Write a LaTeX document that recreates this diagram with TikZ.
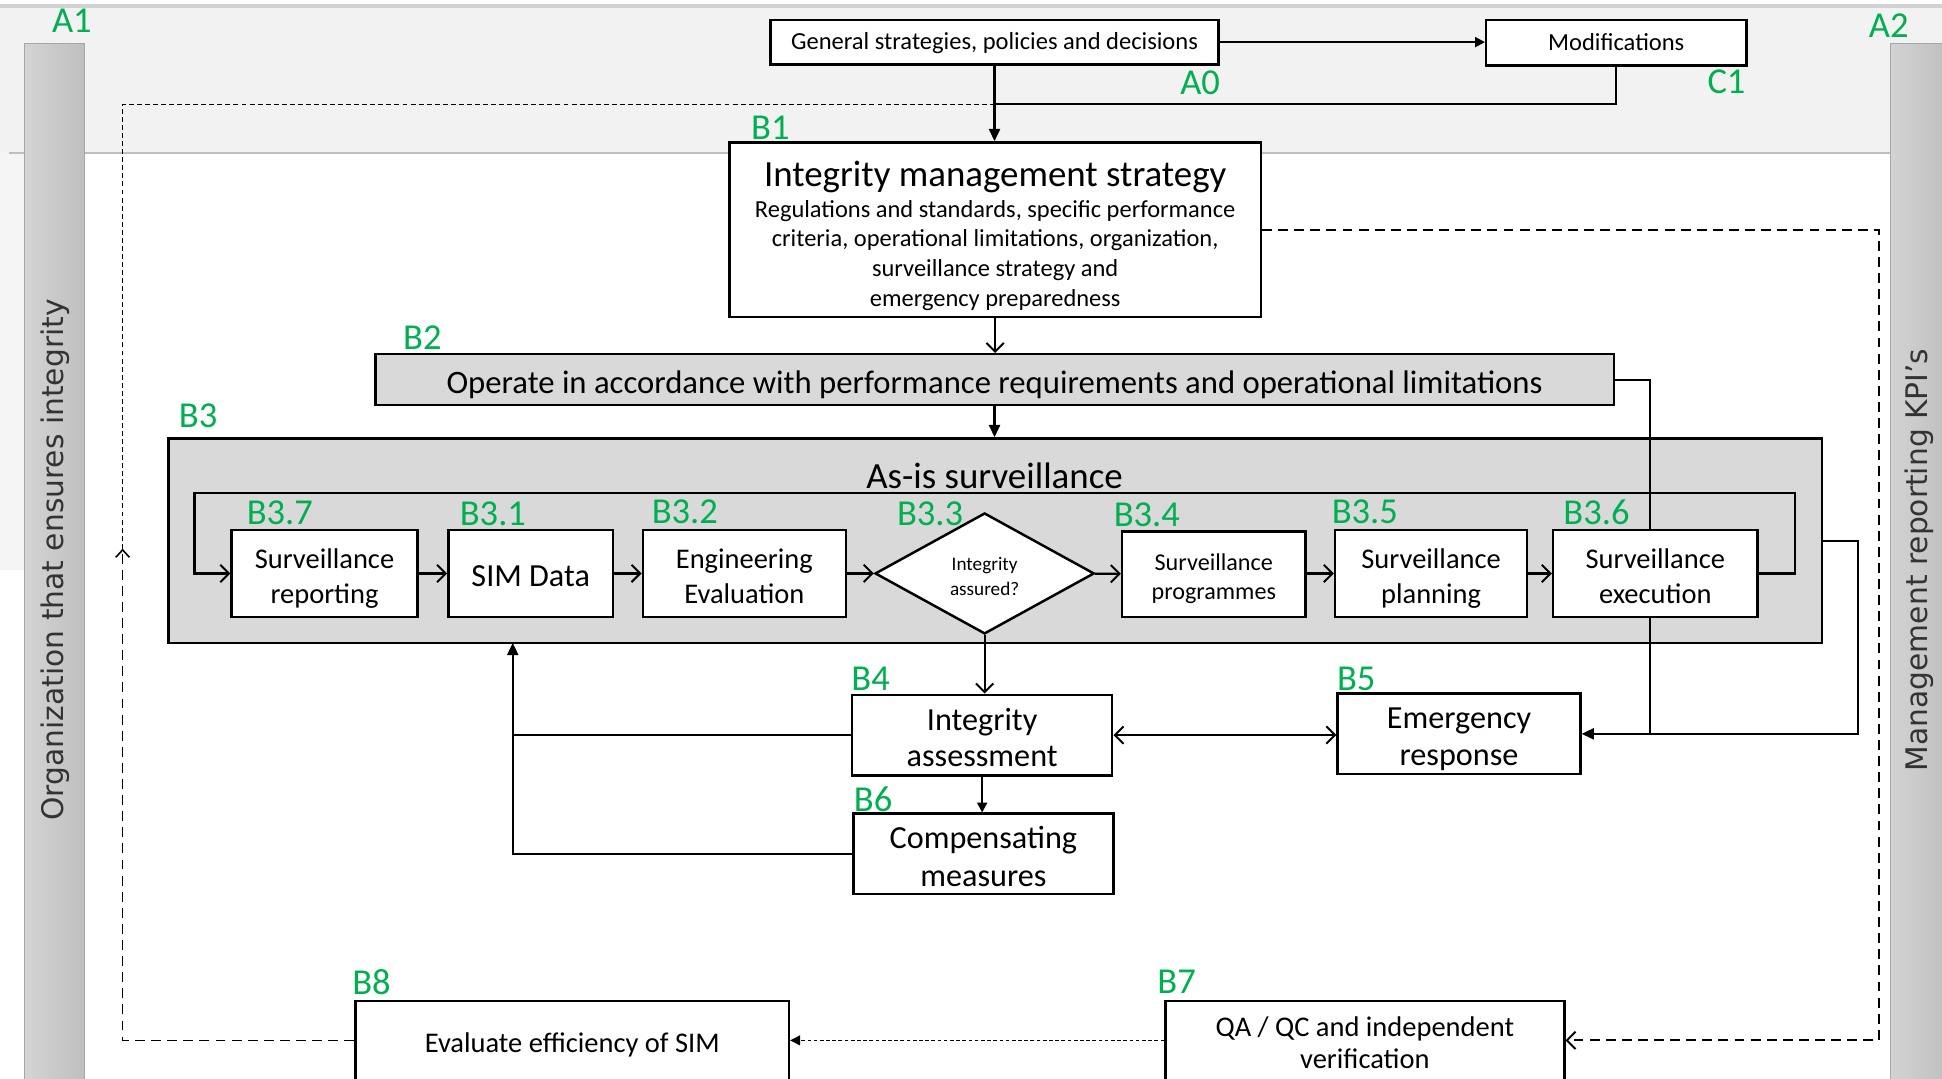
\documentclass[tikz,border=0pt]{standalone}
\usepackage{fontspec}
\setmainfont{Carlito}
\newfontfamily\sidefont{DejaVu Sans}
\usetikzlibrary{arrows.meta,shapes.geometric}
\definecolor{lblgreen}{HTML}{00B050}
\definecolor{bandgray}{HTML}{F2F2F2}
\definecolor{boxgray}{HTML}{D9D9D9}
\newcommand{\myfs}[2]{\fontsize{#1}{#2}\selectfont}
\newcommand{\sx}{\rule[-0.22em]{0pt}{1.08em}}
\newcommand{\sxf}{\rule[-0.22em]{0pt}{\dimexpr 1.08em+5pt\relax}}
\tikzset{
  box/.style={draw=black, line width=2pt, fill=white, align=center, inner sep=0pt},
  graybox/.style={box, fill=boxgray},
  lab/.style={text=lblgreen, font=\myfs{29.5}{30}, inner sep=0pt},
  con/.style={line width=1.7pt, draw=black},
  oarr/.style={-{Straight Barb[length=7pt,width=14pt,line width=1.6pt]}},
  oboth/.style={{Straight Barb[length=7pt,width=14pt,line width=1.6pt]}-{Straight Barb[length=7pt,width=14pt,line width=1.6pt]}},
  farr/.style={-{Triangle[length=10pt,width=9pt]}},
  sarr/.style={-{Triangle[length=8pt,width=8pt]}},
  sidelbl/.style={rotate=90, font=\sidefont\myfs{24}{24}, text=black!80, inner sep=0pt},
  boxtxt/.style={font=\myfs{23}{28.5}},
  bigtxt/.style={font=\myfs{26}{29.5}},
}
\begin{document}
\begin{tikzpicture}[x=1pt,y=-1pt]
\useasboundingbox (0,0) rectangle (1568,871);
% background
\fill[white] (0,0) rectangle (1568,871);
\fill[bandgray] (0,6) rectangle (1568,123);
\fill[bandgray!80] (0,123) rectangle (20,460);
\draw[black!18, line width=3pt] (0,5) -- (1568,5);
\draw[black!25, line width=1pt] (7,123.5) -- (1568,123.5);
\shade[left color=black!17, right color=black!25] (20,35) rectangle (68,875);
\draw[black!35, line width=0.8pt] (20,875) -- (20,35) -- (68,35) -- (68,875);
\shade[left color=black!17, right color=black!25] (1526,35) rectangle (1572,875);
\draw[black!35, line width=0.8pt] (1526,875) -- (1526,35) -- (1572,35);
\node[sidelbl] (orgl) at (45,452) {Organization that ensures integrity};
\node[sidelbl] (mgml) at (1550,452) {Management reporting KPI’s};

% top boxes
\node[box, minimum width=362pt, minimum height=36pt, font=\myfs{19.8}{20}] (gs) at (803,34) {\sx General strategies, policies and decisions};
\node[box, minimum width=210pt, minimum height=37pt, font=\myfs{19.8}{20}] (mod) at (1305,34.5) {\sx Modifications};

% B1
\node[box, minimum width=429pt, minimum height=141pt] (b1) at (803.5,185.5) {};
\node[font=\myfs{29.8}{30}, inner sep=0pt] (b1t) at (803.5,141) {\sx Integrity management strategy};
\node[font=\myfs{19.75}{24}, align=center, inner sep=0pt] (b1b) at (803.5,205) {\sx Regulations and standards, specific performance\\\sx criteria, operational limitations, organization,\\\sx surveillance strategy and\\\sx emergency preparedness};

% B2
\node[graybox, minimum width=1000pt, minimum height=41pt, font=\myfs{26.4}{27}] (b2) at (803,306.5) {\sxf Operate in accordance with performance requirements and operational limitations};

% B3 container
\node[graybox, minimum width=1335pt, minimum height=165pt] (b3) at (803.5,436.5) {};
\node[font=\myfs{29.8}{30}, inner sep=0pt] (b3t) at (803,385) {\sx As-is surveillance};

% lower boxes
\node[box, bigtxt, minimum width=210pt, minimum height=65pt] (b4) at (793,593.5) {\sxf Integrity\\\sx assessment};
\node[box, bigtxt, minimum width=196pt, minimum height=65pt] (b5) at (1178,592.5) {\sxf Emergency\\\sx response};
\node[box, font=\myfs{26}{31}, minimum width=210pt, minimum height=65pt] (b6) at (794,689.5) {\sxf Compensating\\\sx measures};
\node[box, boxtxt, minimum width=350pt, minimum height=64pt] (b8) at (462,840) {\sxf Evaluate efficiency of SIM};
\node[box, font=\myfs{23}{26.5}, minimum width=322pt, minimum height=64pt] (b7) at (1102,840) {\sxf QA / QC and independent\\\sx verification};

% lines crossing B3 (under inner boxes)
\draw[con] (b2.east) -- (1332,306.5) -- (1332,592.5);
\draw[con, farr] (b3.east) -- (1500,436.5) -- (1500,592.5) -- (b5.east);
\draw[con] (1332,592.5) -- (1400,592.5);

% inner boxes
\node[box, boxtxt, minimum width=150pt, minimum height=70pt] (b37) at (262,463) {\sxf Surveillance\\\sx reporting};
\node[box, font=\myfs{26}{28}, minimum width=133pt, minimum height=70pt] (b31) at (428.5,463) {\sxf SIM Data};
\node[box, boxtxt, minimum width=164pt, minimum height=70pt] (b32) at (601,463) {\sxf Engineering\\\sx Evaluation};
\node[box, diamond, minimum width=177pt, minimum height=93pt, font=\myfs{15.5}{20}] (b33) at (795,463) {\sxf Integrity\\\sx assured?};
\node[box, font=\myfs{19.5}{24}, minimum width=148pt, minimum height=69pt] (b34) at (980,463.5) {\sxf Surveillance\\\sx programmes};
\node[box, boxtxt, minimum width=155pt, minimum height=70pt] (b35) at (1155.5,463) {\sxf Surveillance\\\sx planning};
\node[box, boxtxt, minimum width=165pt, minimum height=70pt] (b36) at (1336.5,463) {\sxf Surveillance\\\sx execution};

% labels
\node[lab] (lA1) at (58,17) {A1};
\node[lab] (lA2) at (1525,21) {A2};
\node[lab] (lA0) at (969,67) {A0};
\node[lab] (lC1) at (1394,66) {C1};
\node[lab] (lB1) at (622,103) {B1};
\node[lab] (lB2) at (341,273) {B2};
\node[lab] (lB3) at (160,336) {B3};
\node[lab] (lB37) at (226,414) {B3.7};
\node[lab] (lB31) at (398,415) {B3.1};
\node[lab] (lB32) at (553,413) {B3.2};
\node[lab] (lB33) at (751,415) {B3.3};
\node[lab] (lB34) at (926,416) {B3.4};
\node[lab] (lB35) at (1102,413) {B3.5};
\node[lab] (lB36) at (1289,414) {B3.6};
\node[lab] (lB4) at (703,548) {B4};
\node[lab] (lB5) at (1095,548) {B5};
\node[lab] (lB6) at (705,645) {B6};
\node[lab] (lB7) at (950,793) {B7};
\node[lab] (lB8) at (300,793) {B8};

% coordinates
\coordinate (j0) at (803,84);
\coordinate (fbb) at (99,840);
\coordinate (fbm) at (99,443);
\coordinate (fbt) at (99,84);
\coordinate (r1) at (1517,185.5);
\coordinate (r2) at (1517,840);
\coordinate (up) at (414,519);

% top connectors
\draw[con, sarr] (gs.east) -- (gs.east -| mod.west);
\draw[con, farr] (gs.south) -- (gs.south |- b1.north);
\draw[con] (mod.south) |- (j0);

% feedback dashed
\draw[line width=1.4pt, dash pattern=on 8pt off 5pt, -{Straight Barb[length=6pt,width=11pt,line width=1.3pt]}] (b8.west) -- (fbb) -- (fbm);
\draw[line width=0.8pt, dash pattern=on 4pt off 2.5pt] (fbm) -- (fbt) -- (j0);
\draw[line width=1.5pt, dash pattern=on 8pt off 5pt, oarr] (b1.east) -- (r1) -- (r2) -- (b7.east);
\draw[line width=0.9pt, dash pattern=on 3pt off 2pt, sarr] (b7.west) -- (b8.east);

% main flow
\draw[con, oarr] (b1.south) -- (b1.south |- b2.north);
\draw[con, farr] (b2.south) -- (b2.south |- b3.north);
\draw[con, oarr] (b37) -- (b31);
\draw[con, oarr] (b31) -- (b32);
\draw[con, oarr] (b32) -- (b33);
\draw[con, oarr] (b33) -- (b34);
\draw[con, oarr] (b34.east |- b35.west) -- (b35.west);
\draw[con, oarr] (b35) -- (b36);
\draw[con, oarr] (b36.east) -- (1449,463) -- (1449,398) -- (157,398) -- (157,463) -- (b37.west);
\draw[con, oarr] (b33.south) -- (b33.south |- b4.north);
\draw[con, oboth] (b4.east) -- (b4.east -| b5.west);
\draw[con, sarr] (b4.south) -- (b4.south |- b6.north);
\draw[con, farr] (b6.west) -| (up);
\draw[con] (b4.west) -- (b4.west -| up);
\end{tikzpicture}
\end{document}
